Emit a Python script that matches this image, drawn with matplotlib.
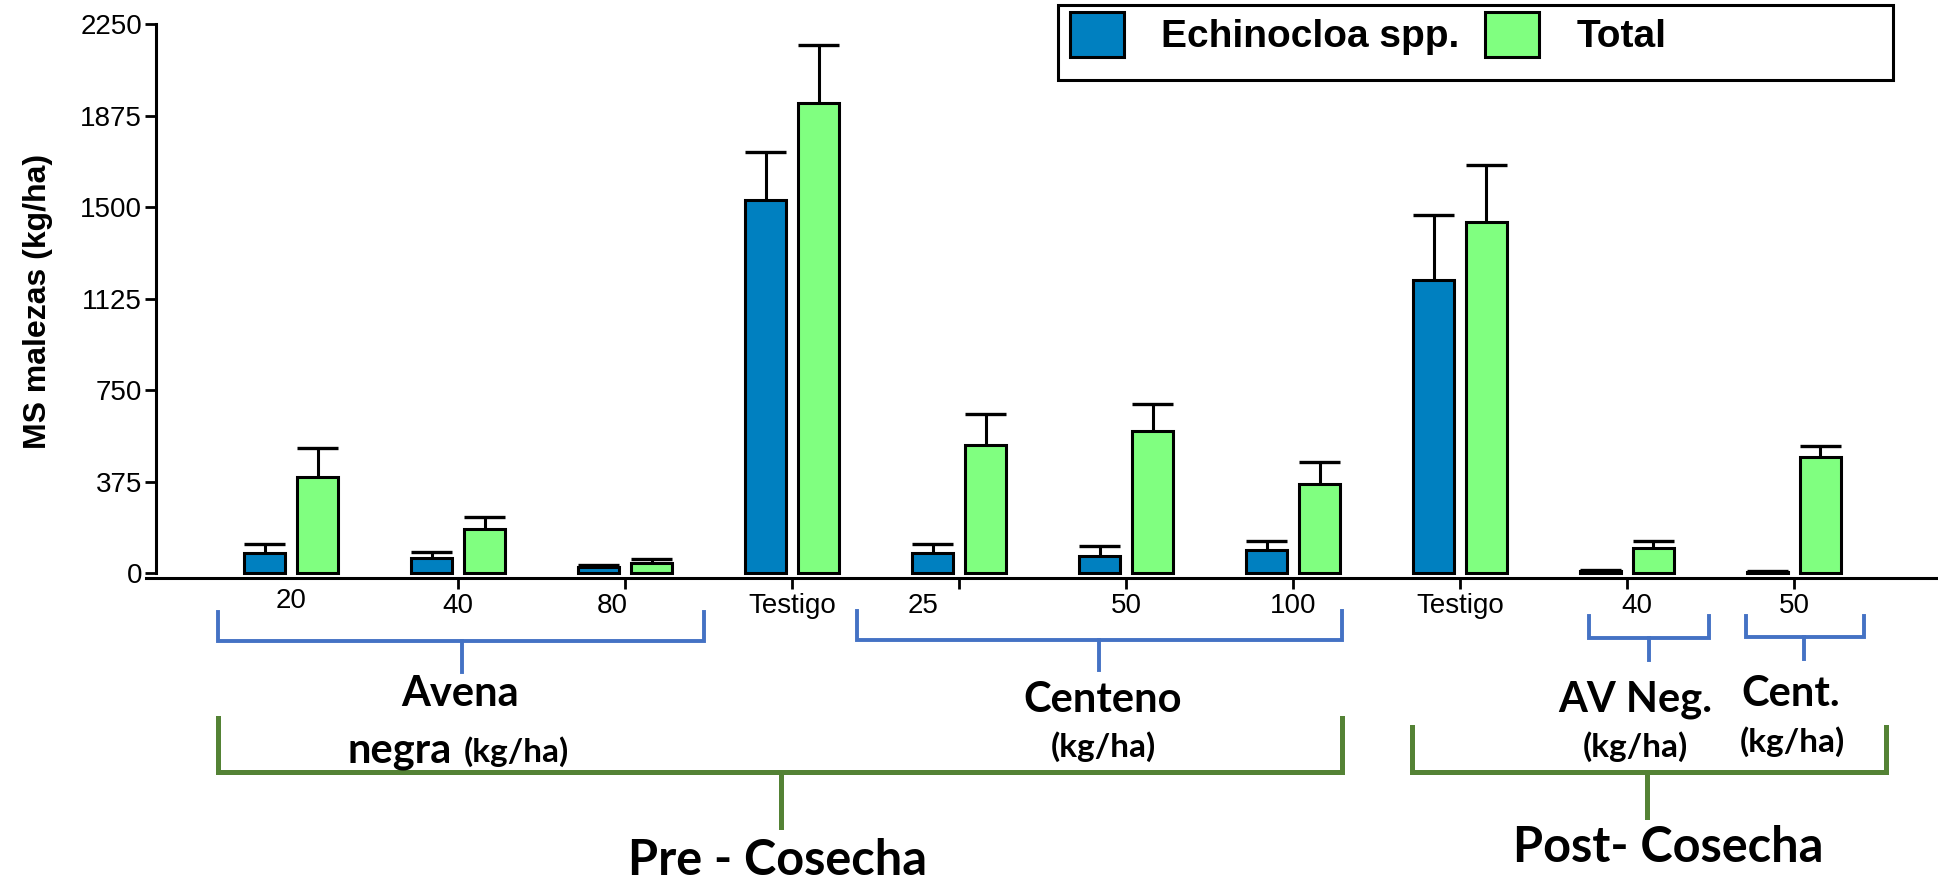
import numpy as np
import matplotlib.pyplot as plt
import matplotlib.transforms as mtransforms
from matplotlib.patches import Rectangle

# weed dry matter (kg/ha), mean and upper standard error per treatment
categories = ['20', '40', '80', 'Testigo', '25', '50', '100', 'Testigo', '40', '50']
echinocloa = [82, 60, 25, 1530, 82, 72, 93, 1202, 10, 5]
echinocloa_se = [39, 28, 8, 196, 39, 38, 37, 265, 3, 2]
total = [395, 179, 41, 1928, 527, 581, 364, 1440, 104, 474]
total_se = [117, 49, 15, 234, 126, 114, 93, 233, 26, 48]
series_names = ['Echinocloa spp.', 'Total']
y_ticks = [0, 375, 750, 1125, 1500, 1875, 2250]

W, H = 1938, 880
plt.rcParams['font.family'] = ['Liberation Sans', 'DejaVu Sans']

fig = plt.figure(figsize=(W / 100, H / 100), dpi=100)
ax = fig.add_axes([146 / W, 1 - 578 / H, (1936 - 146) / W, (578 - 24) / H])

x = np.arange(len(categories))
bw = 0.245
series = [(echinocloa, echinocloa_se, '#0080C0', -0.158), (total, total_se, '#80FF80', 0.158)]
handles = []
for vals, se, col, off in series:
    xs = x + off
    vals = np.array(vals)
    top = vals + np.array(se)
    h = ax.bar(xs, vals, bw, color=col, edgecolor='black', linewidth=2.2, zorder=3)
    # upper whisker only, cap as wide as the bar
    ax.vlines(xs, vals, top, color='black', lw=2.2, zorder=2)
    ax.hlines(top, xs - bw / 2, xs + bw / 2, color='black', lw=2.4, zorder=2)
    handles.append(h)

ax.set_xlim(-0.87, 9.85)
ax.set_ylim(-20, 2250)
for s in ['top', 'right']:
    ax.spines[s].set_visible(False)
ax.spines['left'].set_position(('data', -0.81))
ax.spines['left'].set_bounds(0, 2250)
ax.spines['left'].set_linewidth(2.2)
ax.spines['bottom'].set_linewidth(2.2)

ax.set_yticks(y_ticks)
ax.tick_params(axis='y', labelsize=20, length=8, width=2, pad=2)
ax.set_xticks(x)
ax.set_xticklabels(categories)
ax.tick_params(axis='x', labelsize=20, length=8, width=2, pad=3)
ax.xaxis.get_major_ticks()[0].tick1line.set_visible(False)

# small hand adjustments of a few tick labels
nudges = {0: (0, 4), 2: (-9, 0), 4: (-26, 0), 8: (7, 0)}
for i, lab in enumerate(ax.get_xticklabels()):
    dx, dy = nudges.get(i, (0, 0))
    lab.set_transform(lab.get_transform() +
                      mtransforms.ScaledTranslation(dx / 72, dy / 72, fig.dpi_scale_trans))

ax.set_ylabel('MS malezas (kg/ha)', fontsize=23, fontweight='bold')
ax.yaxis.set_label_coords(-0.052, 0.5)

# legend with a wide frame
ax.legend(handles, series_names, loc='upper left', ncol=2,
          bbox_to_anchor=(1070 / W, 1 - 12 / H), bbox_transform=fig.transFigure,
          frameon=False, prop=dict(weight='bold', size=28),
          handlelength=1.39, handleheight=1.39, handletextpad=0.95,
          columnspacing=0.67, borderpad=0, borderaxespad=0)
fig.add_artist(Rectangle((1058 / W, 1 - 80 / H), (1893 - 1058) / W, 75 / H,
                         transform=fig.transFigure, fill=False, edgecolor='black', lw=2.2))

# treatment brackets below the axis
tr = mtransforms.blended_transform_factory(ax.transData, fig.transFigure)


def bracket(x0, x1, xs, ytop, ybar, ystem, color, lw):
    ax.plot([x0, x0, x1, x1], [1 - ytop / H, 1 - ybar / H, 1 - ybar / H, 1 - ytop / H],
            color=color, lw=lw, transform=tr, clip_on=False, solid_joinstyle='miter')
    ax.plot([xs, xs], [1 - ybar / H, 1 - ystem / H], color=color, lw=lw,
            transform=tr, clip_on=False)


blue_br = '#4472C4'
green_br = '#548235'
bracket(-0.44, 2.47, 1.02, 612, 641, 672, blue_br, 2.8)
bracket(3.39, 6.29, 4.84, 611, 640, 670, blue_br, 2.8)
bracket(7.77, 8.49, 8.13, 616, 638, 660, blue_br, 2.8)
bracket(8.71, 9.42, 9.06, 616, 637, 659, blue_br, 2.8)
bracket(-0.44, 6.29, 2.93, 718, 772, 827, green_br, 3.6)
bracket(6.71, 9.55, 8.12, 727, 772, 817, green_br, 3.6)

lab_font = dict(family=['Lato', 'DejaVu Sans'], fontweight='bold', va='baseline')


def ftext(px, py, s, size, ha='center'):
    fig.text(px / W, 1 - py / H, s, fontsize=size, ha=ha, **lab_font)


ftext(460, 706, 'Avena', 30)
ftext(452, 762, 'negra', 30, ha='right')
ftext(464, 762, '(kg/ha)', 24, ha='left')
ftext(1103, 712, 'Centeno', 30)
ftext(1103, 757, '(kg/ha)', 24)
ftext(1635, 711, 'AV Neg.', 30)
ftext(1635, 757, '(kg/ha)', 24)
ftext(1791, 706, 'Cent.', 30)
ftext(1792, 752, '(kg/ha)', 24)
ftext(777, 875, 'Pre - Cosecha', 35)
ftext(1668, 862, 'Post- Cosecha', 35)

fig.savefig('out.png', dpi=100)
